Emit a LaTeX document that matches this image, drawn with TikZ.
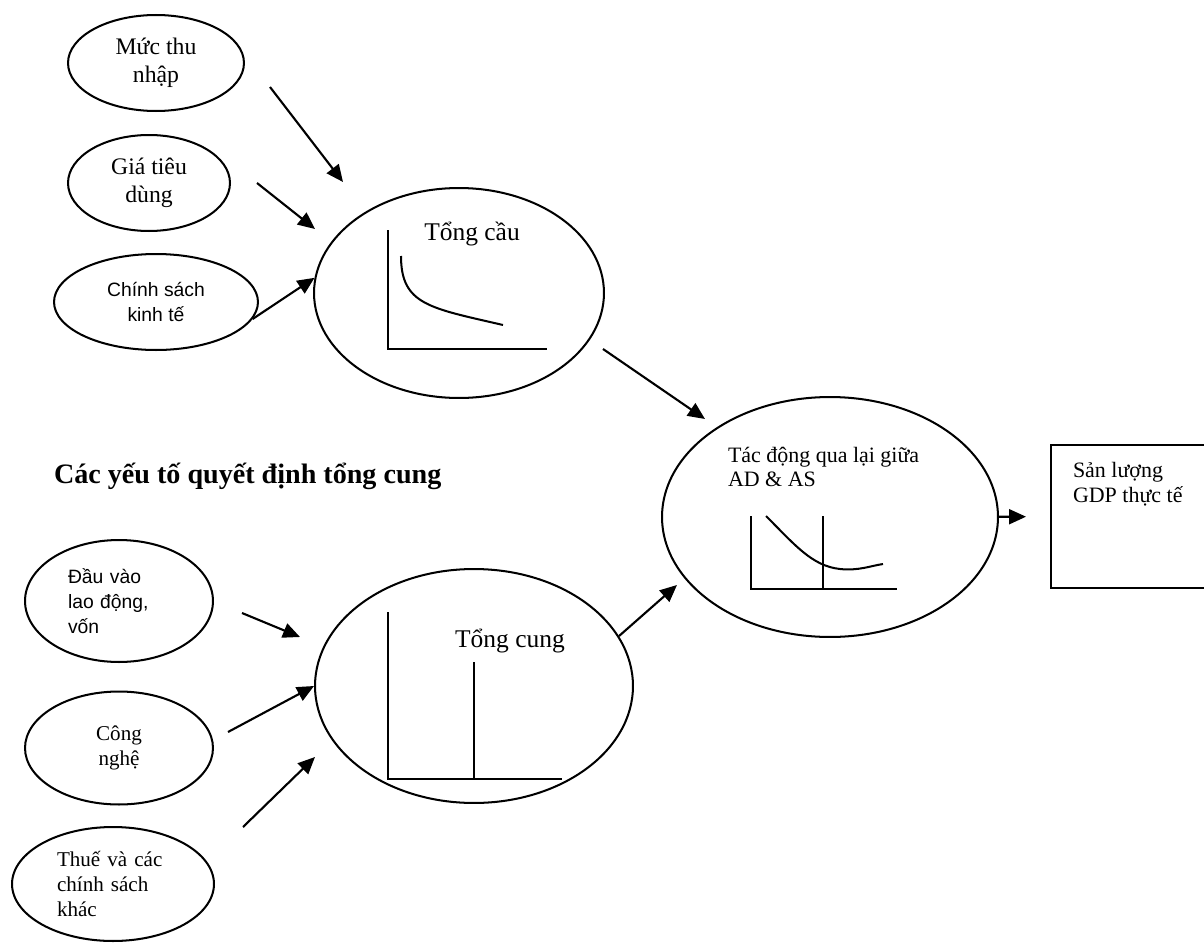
\documentclass[tikz,border=0pt]{standalone}
\usepackage{fontspec}
\setmainfont{Liberation Serif}
\newfontfamily\lsans{Liberation Sans}
\usetikzlibrary{calc,shapes.geometric,arrows.meta,positioning}

\begin{document}
\begin{tikzpicture}[x=0.02cm,y=-0.02cm,line width=1.15pt]

\tikzset{bubble/.style={draw,ellipse,inner sep=0pt,align=center,font=\fontsize{13.5}{16}\selectfont},
bigbubble/.style={draw,ellipse,inner sep=0pt},
lbl/.style={inner sep=0pt},
arr/.style={-{Triangle[length=0.34cm,width=0.3cm]},line width=1.2pt}}

\useasboundingbox (0,0) rectangle (1204,943);

% Demand side inputs
\node[bubble,minimum width=3.52cm,minimum height=1.92cm] (thunhap) at (156,63) {Mức thu\\nhập};
\node[bubble,minimum width=3.24cm,minimum height=1.92cm] (giatd) at (149,183) {Giá tiêu\\dùng};
\node[bubble,font=\lsans\fontsize{11}{14.7}\selectfont,minimum width=4.08cm,minimum height=1.92cm] (chinhsach) at (156,302) {Chính sách\\kinh tế};

% Supply side inputs
\node[lbl,anchor=base west,font=\bfseries\fontsize{16}{18}\selectfont] (tieude) at (53,483) {Các yếu tố quyết định tổng cung};
\node[bubble,font=\lsans\fontsize{11}{14.2}\selectfont,text width=2.04cm,align=left,minimum width=3.76cm,minimum height=2.44cm] (dauvao) at (119,601) {Đầu vào\\lao động,\\vốn};
\node[bubble,font=\fontsize{12}{14.2}\selectfont,minimum width=3.76cm,minimum height=2.26cm] (congnghe) at (119,748) {Công\\nghệ};
\node[bubble,font=\fontsize{12}{14.2}\selectfont,text width=2.24cm,align=left,minimum width=4.04cm,minimum height=2.28cm] (thue) at (113,884) {Thuế và các\\chính sách\\khác};

% Aggregate demand
\node[bigbubble,minimum width=5.8cm,minimum height=4.2cm] (tongcau) at (459,293) {};
\node[lbl,anchor=base,font=\fontsize{14.5}{17}\selectfont] (adlabel) at ($(tongcau)+(13,-53)$) {Tổng cầu};
\draw (388,230) -- (388,349) -- (547,349);
\draw (401,256) .. controls (401,305) and (430,308) .. (503,325);

% Aggregate supply
\node[bigbubble,minimum width=6.36cm,minimum height=4.68cm] (tongcung) at (474,686) {};
\node[lbl,anchor=base,font=\fontsize{14.5}{17}\selectfont] (aslabel) at ($(tongcung)+(36,-39)$) {Tổng cung};
\draw (388,612) -- (388,779) -- (562,779);
\draw (474,662) -- (474,779);

% Interaction AD & AS
\node[bigbubble,minimum width=6.72cm,minimum height=4.8cm] (tacdong) at (830,517) {};
\node[lbl,anchor=west,align=left,font=\fontsize{12.5}{14}\selectfont] (adaslabel) at (727,467) {Tác động qua lại giữa\\AD \& AS};
\draw (751,516) -- (751,589) -- (897,589);
\draw (823,516) -- (823,589);
\draw (766,516) .. controls (795,545) and (812,566) .. (840,569) .. controls (858,571) and (870,566) .. (883,564);

% Output box
\node[draw,inner sep=0pt,minimum width=3.98cm,minimum height=2.86cm] (gdp) at (1150.5,516.5) {};
\node[lbl,anchor=west,align=left,font=\fontsize{12.5}{14.2}\selectfont] (gdplabel) at (1072,484) {Sản lượng\\GDP thực tế};

% Arrows
\draw[arr] ($(thunhap)+(114,24)$) -- ($(tongcau)+(-116,-111)$);
\draw[arr] ($(giatd)+(108,0)$) -- ($(tongcau)+(-144,-64)$);
\draw[arr] (chinhsach.-10) -- (tongcau.174);
\draw[arr] ($(dauvao)+(123,12)$) -- ($(tongcung)+(-174,-49)$);
\draw[arr] ($(congnghe)+(109,-16)$) -- (tongcung.west);
\draw[arr] ($(thue)+(130,-57)$) -- ($(tongcung)+(-159,71)$);
\draw[arr] ($(tongcau)+(144,56)$) -- ($(tacdong)+(-125,-98)$);
\draw[arr] (tongcung.19) -- ($(tacdong)+(-153,68)$);
\draw[arr,shorten >=0.48cm] (tacdong) -- (gdp);

\end{tikzpicture}
\end{document}
